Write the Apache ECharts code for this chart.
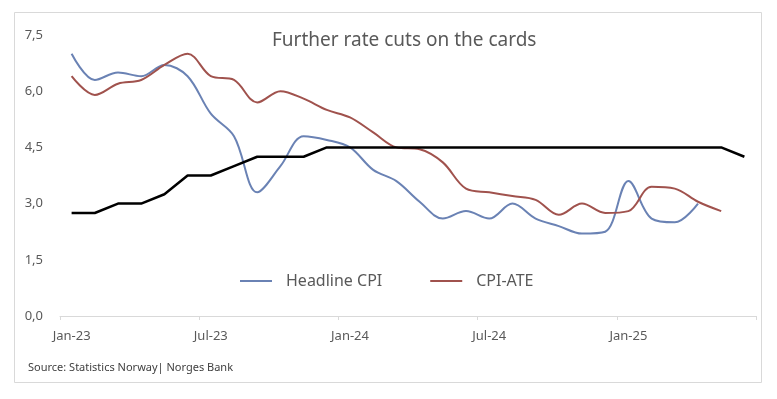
<!DOCTYPE html>
<html>
<head>
<meta charset="utf-8">
<script src="https://cdn.jsdelivr.net/npm/echarts@6/dist/echarts.min.js"></script>
<style>
  html, body { margin: 0; padding: 0; background: #fff; }
  #chart { width: 777px; height: 399px; }
</style>
</head>
<body>
<div id="chart"></div>
<script>
var months = ['Jan-23', 'Feb-23', 'Mar-23', 'Apr-23', 'May-23', 'Jun-23',
    'Jul-23', 'Aug-23', 'Sep-23', 'Oct-23', 'Nov-23', 'Dec-23',
    'Jan-24', 'Feb-24', 'Mar-24', 'Apr-24', 'May-24', 'Jun-24',
    'Jul-24', 'Aug-24', 'Sep-24', 'Oct-24', 'Nov-24', 'Dec-24',
    'Jan-25', 'Feb-25', 'Mar-25', 'Apr-25', 'May-25', 'Jun-25']
var headlineCpi = [7.0, 6.3, 6.5, 6.4, 6.7, 6.4, 5.4, 4.8, 3.3, 4.0, 4.8, 4.7,
    4.5, 3.9, 3.6, 3.05, 2.6, 2.8, 2.6, 3.0, 2.6, 2.4, 2.2, 2.25,
    3.6, 2.6, 2.5, 3.0]
var cpiAte = [6.4, 5.9, 6.2, 6.3, 6.7, 7.0, 6.4, 6.3, 5.7, 6.0, 5.8, 5.5,
    5.3, 4.9, 4.5, 4.45, 4.1, 3.4, 3.3, 3.2, 3.1, 2.7, 3.0, 2.75,
    2.8, 3.45, 3.4, 3.05, 2.8]
var policyRate = [2.75, 2.75, 3.0, 3.0, 3.25, 3.75, 3.75, 4.0, 4.25, 4.25, 4.25, 4.5,
    4.5, 4.5, 4.5, 4.5, 4.5, 4.5, 4.5, 4.5, 4.5, 4.5, 4.5, 4.5,
    4.5, 4.5, 4.5, 4.5, 4.5, 4.25]

var chart = echarts.init(document.getElementById('chart'))
var font = 'Noto Sans'

var option = {
    animation: false,
    backgroundColor: '#fff',
    title: {
        text: 'Further rate cuts on the cards',
        left: 267,
        top: 26,
        textStyle: {
            color: '#595959',
            fontSize: 19,
            fontWeight: 'normal',
            fontFamily: font
        }
    },
    legend: {
        left: 235,
        top: 268,
        icon: 'rect',
        itemWidth: 32,
        itemHeight: 2,
        itemGap: 48,
        textStyle: {
            color: '#595959',
            fontSize: 16,
            fontFamily: font,
            padding: [0, 0, 0, 9]
        },
        data: ['Headline CPI', 'CPI-ATE']
    },
    graphic: [
        {
            type: 'rect',
            shape: { x: 14.5, y: 12.5, width: 747, height: 370 },
            style: { fill: 'none', stroke: '#d9d9d9', lineWidth: 1 },
            silent: true
        },
        {
            type: 'text',
            left: 28,
            top: 362,
            style: {
                text: 'Source: Statistics Norway| Norges Bank',
                fill: '#404040',
                fontSize: 11,
                fontFamily: font
            }
        }
    ],
    grid: {
        left: 60,
        right: 21,
        top: 35,
        bottom: 83
    },
    xAxis: {
        type: 'category',
        data: months,
        boundaryGap: true,
        axisLine: { lineStyle: { color: '#d9d9d9', width: 1 } },
        axisTick: { show: true, interval: 5, length: 4, lineStyle: { color: '#d9d9d9' } },
        axisLabel: {
            interval: 5,
            margin: 14,
            color: '#595959',
            fontSize: 13,
            fontFamily: font
        }
    },
    yAxis: {
        type: 'value',
        min: 0,
        max: 7.5,
        interval: 1.5,
        axisLine: { show: false },
        axisTick: { show: false },
        splitLine: { show: false },
        axisLabel: {
            margin: 17,
            color: '#595959',
            fontSize: 13,
            fontFamily: font,
            formatter: function (v) { return v.toFixed(1).replace('.', ',') }
        }
    },
    series: [
        {
            name: 'Headline CPI',
            type: 'line',
            data: headlineCpi,
            smooth: 0.35,
            symbol: 'none',
            lineStyle: { color: '#6a82b4', width: 2 },
            itemStyle: { color: '#6a82b4' }
        },
        {
            name: 'CPI-ATE',
            type: 'line',
            data: cpiAte,
            smooth: 0.35,
            symbol: 'none',
            lineStyle: { color: '#a0524d', width: 2 },
            itemStyle: { color: '#a0524d' }
        },
        {
            name: 'Policy rate',
            type: 'line',
            data: policyRate,
            symbol: 'none',
            lineStyle: { color: '#000', width: 2.5 },
            itemStyle: { color: '#000' }
        }
    ]
}
chart.setOption(option)
</script>
</body>
</html>
